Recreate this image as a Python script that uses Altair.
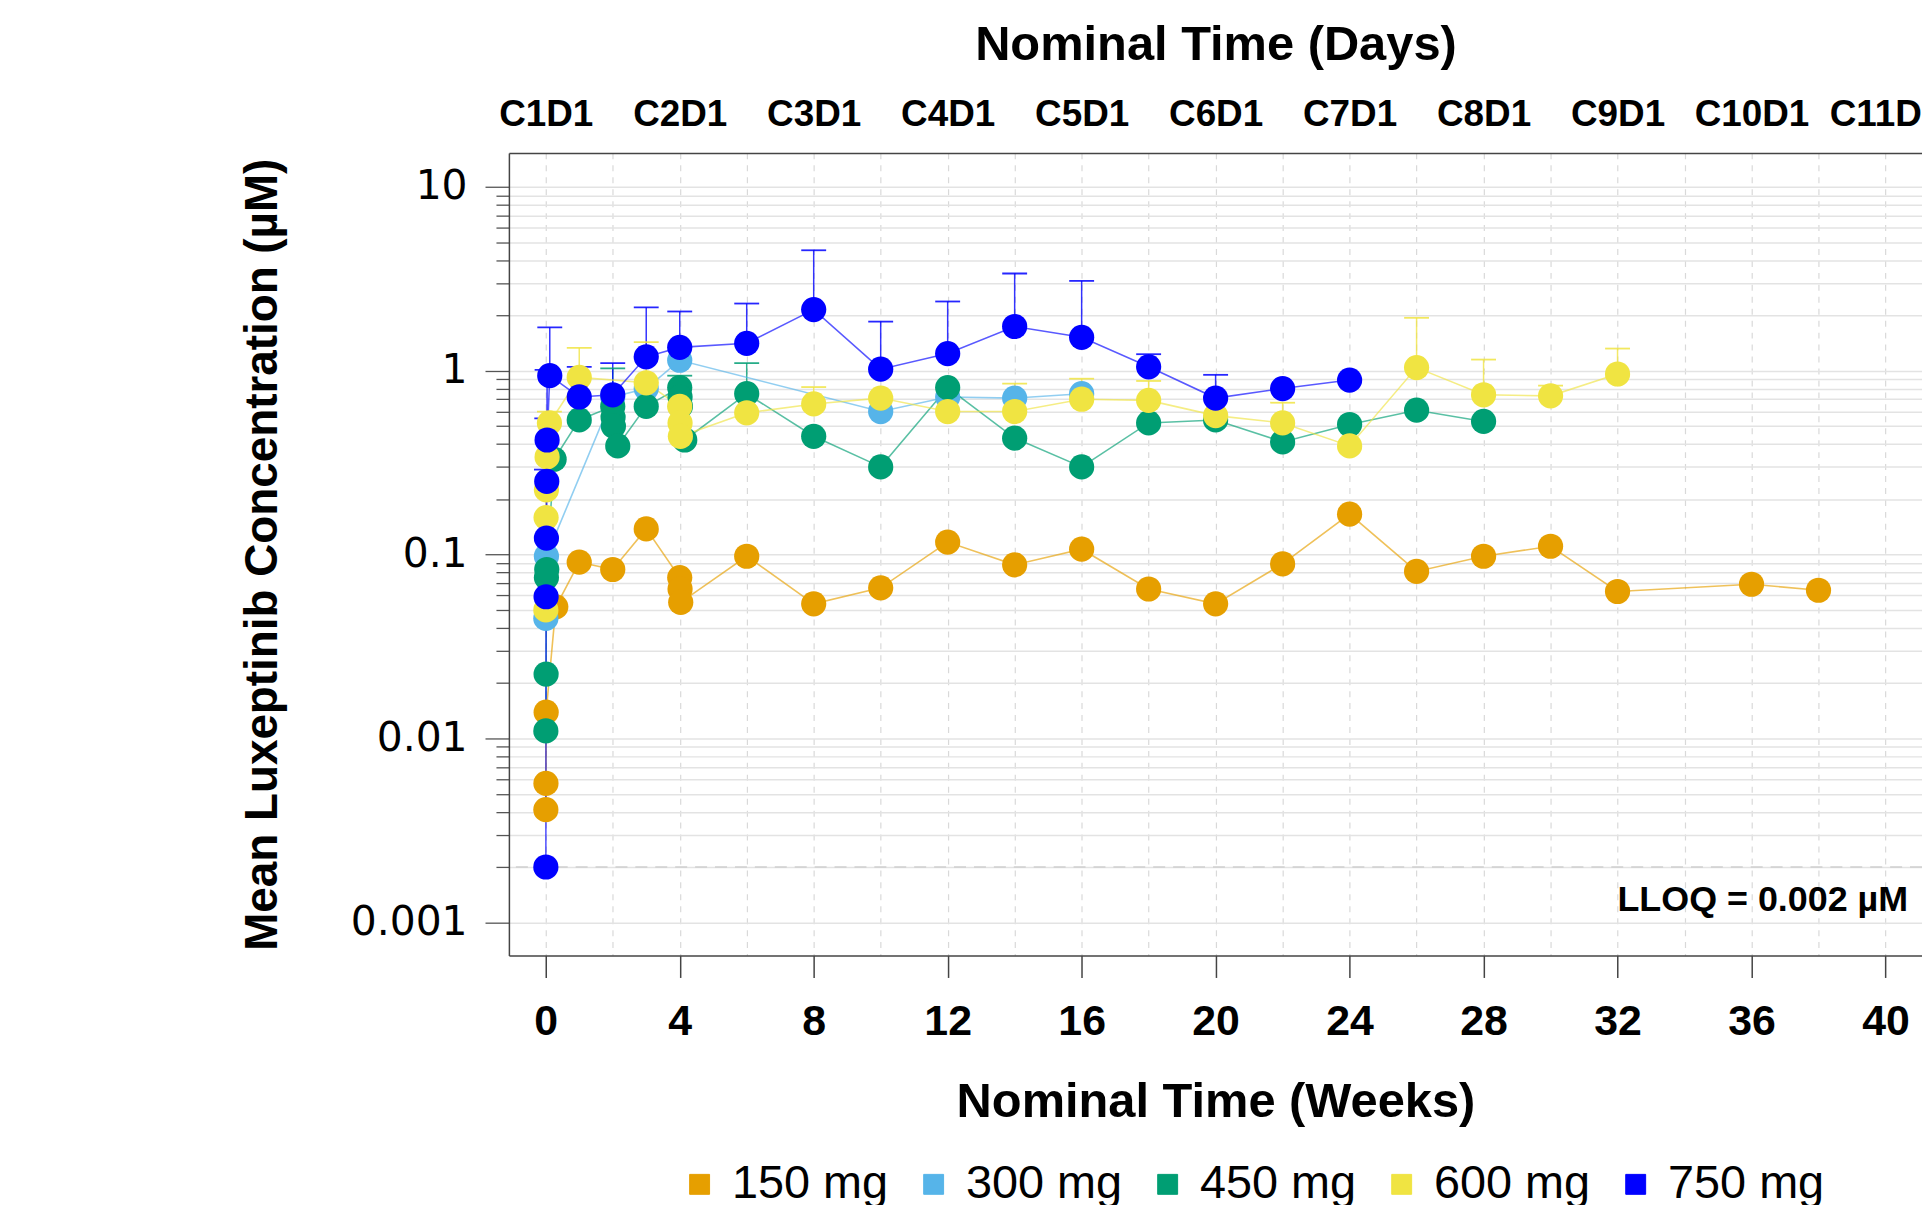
import altair as alt
import pandas as pd

# ---------------- data ----------------
doses = ["150 mg", "300 mg", "450 mg", "600 mg", "750 mg"]
colors = ["#E69F00", "#56B4E9", "#009E73", "#F0E442", "#0000FF"]

wk_150 = [0.003, 0.006, 0.012, 0.3, 1, 2, 3, 4, 4.01, 4.03, 6, 8, 10, 12, 14, 16, 18, 20, 22, 24, 26, 28, 30, 32, 36, 38]
conc_150 = [0.0041, 0.0057, 0.0139, 0.052, 0.091, 0.083, 0.138, 0.075, 0.065, 0.055, 0.098, 0.054, 0.066, 0.117,
            0.088, 0.107, 0.065, 0.054, 0.089, 0.166, 0.081, 0.098, 0.111, 0.063, 0.069, 0.064]
up_150 = [None] * len(wk_150)

wk_300 = [0.003, 0.02, 2, 3, 4, 10, 12, 14, 16]
conc_300 = [0.045, 0.098, 0.72, 0.80, 1.14, 0.60, 0.72, 0.71, 0.75]
up_300 = [None] * len(wk_300)

wk_450 = [0.003, 0.01, 0.02, 0.03, 0.25, 1, 2, 2.01, 2.02, 2.15, 3, 4, 4.01, 4.02, 4.15, 6, 8, 10, 12, 14, 16,
          18, 20, 22, 24, 26, 28]
conc_450 = [0.011, 0.0224, 0.075, 0.083, 0.33, 0.54, 0.64, 0.56, 0.50, 0.39, 0.64, 0.81, 0.72, 0.64, 0.42, 0.75,
            0.44, 0.30, 0.81, 0.43, 0.30, 0.52, 0.54, 0.41, 0.51, 0.61, 0.53]
up_450 = [None, None, None, None, None, None, 1.03, None, None, None, None, 0.94, None, None, None, 1.10,
          None, None, None, None, None, None, None, None, None, None, None]

wk_600 = [0.003, 0.01, 0.02, 0.04, 0.11, 1, 3, 4, 4.01, 4.02, 6, 8, 10, 12, 14, 16, 18, 20, 22, 24, 26, 28, 30, 32]
conc_600 = [0.050, 0.159, 0.225, 0.34, 0.52, 0.92, 0.86, 0.64, 0.52, 0.44, 0.59, 0.66, 0.71, 0.60, 0.60, 0.70,
            0.69, 0.57, 0.52, 0.39, 1.04, 0.74, 0.73, 0.96]
up_600 = [None, None, None, None, 0.60, 1.33, 1.43, None, None, None, None, 0.815, None, None, 0.85, 0.905,
          0.88, None, 0.67, None, 1.94, 1.15, 0.83, 1.32]

wk_750 = [0.003, 0.01, 0.02, 0.03, 0.04, 0.12, 1, 2, 3, 4, 6, 8, 10, 12, 14, 16, 18, 20, 22, 24]
conc_750 = [0.0020, 0.059, 0.123, 0.25, 0.42, 0.94, 0.72, 0.74, 1.19, 1.34, 1.41, 2.15, 1.02, 1.24, 1.74, 1.52,
            1.05, 0.71, 0.80, 0.89]
up_750 = [None, None, 0.29, 0.55, 1.01, 1.72, 1.05, 1.10, 2.21, 2.10, 2.32, 4.52, 1.85, 2.38, 3.38, 3.08,
          1.23, 0.95, None, None]

week_ticks = list(range(0, 41, 4))
week_grid = list(range(0, 41, 2))
decades = [0.001, 0.01, 0.1, 1, 10]
minor_vals = [round(m * 10 ** e, 6) for e in range(-3, 1) for m in range(2, 10)]
lloq = [0.002]
lloq_text = ["LLOQ = 0.002 µM"]

series = [
    (doses[0], wk_150, conc_150, up_150),
    (doses[1], wk_300, conc_300, up_300),
    (doses[2], wk_450, conc_450, up_450),
    (doses[3], wk_600, conc_600, up_600),
    (doses[4], wk_750, conc_750, up_750),
]
rows = []
for k, (dose, wks, cs, ups) in enumerate(series):
    for w, c, u in zip(wks, cs, ups):
        rows.append({"dose": dose, "week": w, "conc": c, "upper": u, "sorder": k})
df = pd.DataFrame(rows)
err = df.dropna(subset=["upper"]).reset_index(drop=True)

# ---------------- layout ----------------
W, H = 1419, 806
FONT = "Liberation Sans"

x_scale = alt.Scale(domain=[-1.1, 41.09], nice=False, zero=False)
y_scale = alt.Scale(type="log", domain=[0.00066, 15.3], nice=False)

xe = alt.X("week:Q", scale=x_scale, axis=None)
ye = alt.Y("conc:Q", scale=y_scale, axis=None)

legend = alt.Legend(
    orient="none", legendX=168, legendY=1012, direction="horizontal", title=None,
    symbolType="square", symbolSize=400, symbolStrokeColor="#333", symbolStrokeWidth=1,
    symbolOpacity=1, labelFont=FONT, labelFontSize=47, labelColor="black", labelOffset=9,
    columnPadding=22, labelLimit=500)
col = alt.Color("dose:N", scale=alt.Scale(domain=doses, range=colors), legend=legend)

base = alt.Chart(df)

# legend carrier: draws nothing, gives the legend squares a dark outline
legend_layer = base.transform_filter("false").mark_square(
    size=400, filled=True, stroke="#333", strokeWidth=1, opacity=1).encode(x=xe, y=ye, color=col)

ax_minor = base.mark_point(opacity=0).encode(
    x=alt.X("week:Q", scale=x_scale, axis=alt.Axis(
        orient="bottom", values=week_grid, grid=True, gridDash=[6, 6], gridColor="#d9d9d9", gridWidth=1.2,
        labels=False, ticks=False, domain=False, title=None)),
    y=alt.Y("conc:Q", scale=y_scale, axis=alt.Axis(
        orient="left", values=minor_vals, grid=True, gridColor="#e3e3e3", gridWidth=1.5,
        labels=False, ticks=True, tickSize=13, tickColor="#555", tickWidth=1.3, domain=False, title=None)),
)

ax_main = base.mark_point(opacity=0).encode(
    x=alt.X("week:Q", scale=x_scale, axis=alt.Axis(
        orient="bottom", values=week_ticks, grid=False, tickSize=22, tickWidth=1.5, tickColor="#444",
        domainColor="#444", domainWidth=1.5, labelFont=FONT, labelFontWeight="bold", labelFontSize=43,
        labelColor="black", labelPadding=23, labelFlush=False, title="Nominal Time (Weeks)",
        titleFont=FONT, titleFontSize=49, titleFontWeight="bold", titleColor="black", titlePadding=35)),
    y=alt.Y("conc:Q", scale=y_scale, axis=alt.Axis(
        orient="left", values=decades, format="~g", grid=True, gridColor="#e3e3e3", gridWidth=1.5,
        tickSize=24, tickWidth=1.3, tickColor="#555", domainColor="#444", domainWidth=1.5,
        labelFont="DejaVu Sans", labelFontSize=41, labelColor="black", labelPadding=18,
        title="Mean Luxeptinib Concentration (µM)", titleFont=FONT, titleFontSize=46,
        titleFontWeight="bold", titleColor="black", titlePadding=64)),
)

ax_top = base.mark_point(opacity=0).encode(
    x=alt.X("week:Q", scale=x_scale, axis=alt.Axis(
        orient="top", values=week_ticks, labelExpr="'C' + (datum.value / 4 + 1) + 'D1'", grid=False,
        ticks=False, tickSize=0, domainColor="#444", domainWidth=1.5, labelFont=FONT, labelFontWeight="bold",
        labelFontSize=37, labelColor="black", labelPadding=20, labelFlush=False,
        title="Nominal Time (Days)", titleFont=FONT, titleFontSize=49, titleFontWeight="bold",
        titleColor="black", titlePadding=26)),
    y=alt.Y("conc:Q", scale=y_scale, axis=None),
)

lloq_df = pd.DataFrame({"lloq": lloq, "label": lloq_text})
lloq_rule = alt.Chart(lloq_df).mark_rule(strokeDash=[12, 8], color="#cfcfcf", strokeWidth=1.6).encode(
    y=alt.Y("lloq:Q", scale=y_scale, axis=None))
lloq_label = alt.Chart(lloq_df).mark_text(
    align="right", baseline="middle", dy=33, fontSize=36, fontWeight="bold", font=FONT, color="black").encode(
    x=alt.value(W - 14), y=alt.Y("lloq:Q", scale=y_scale, axis=None), text="label:N")

err_rules = alt.Chart(err).mark_rule(strokeWidth=1.5, opacity=0.8).encode(
    x=xe, y=ye, y2=alt.Y2("upper:Q"), color=col)
err_caps = alt.Chart(err).mark_tick(orient="horizontal", size=25, thickness=1.8, opacity=0.85).encode(
    x=xe, y=alt.Y("upper:Q", scale=y_scale, axis=None), color=col)

lines = base.mark_line(strokeWidth=1.6, opacity=0.65).encode(
    x=xe, y=ye, color=col, order=alt.Order("week:Q"))

points = base.mark_circle(size=640, opacity=1).encode(
    x=xe, y=ye, color=col, order=alt.Order("sorder:Q"))

chart = alt.layer(
    legend_layer, ax_minor, ax_main, ax_top, lloq_rule, err_rules, err_caps, lines, points, lloq_label
).resolve_axis(x="independent", y="independent").properties(
    width=W, height=H,
    autosize=alt.AutoSizeParams(type="none"),
    padding={"left": 503, "top": 143, "right": 0, "bottom": 250},
).configure_view(stroke=None)

chart.save("out.html", embed_options={"renderer": "svg", "actions": False})
